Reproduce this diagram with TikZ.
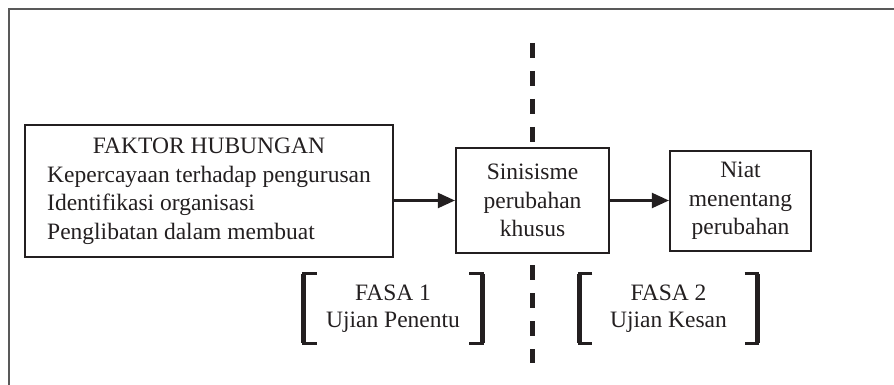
\documentclass[tikz,border=0pt]{standalone}
\usepackage{fontspec}
\setmainfont{Liberation Serif}
\usetikzlibrary{arrows.meta}
\definecolor{ink}{RGB}{35,31,32}

\begin{document}
\begin{tikzpicture}[x=1pt,y=-1pt,
        kotak/.style={draw=ink,line width=2.2pt,fill=white,align=center,inner sep=0pt,text=ink,
            font=\fontsize{23.5}{28.5}\selectfont},
        panah/.style={draw=ink,line width=2.2pt,-{Triangle[length=17pt,width=15pt]}},
        garis/.style={draw=ink,line width=5pt,dash pattern=on 15pt off 13pt},
        fasa/.style={minimum width=178pt,minimum height=69pt,align=center,inner sep=0pt,text=ink,
            font=\fontsize{23.5}{27}\selectfont},
        kurung/.style={draw=ink,line width=3pt}]
                \useasboundingbox (0,0) rectangle (894,385);
                \draw[black!65,line width=1.5pt] (9,385) -- (9,9) -- (894,9);
                % kotak
                \node[kotak,minimum width=368pt,minimum height=132pt] (faktor) at (209,191)
                    {\begin{tabular}{@{}l@{}}\multicolumn{1}{@{}c@{}}{FAKTOR HUBUNGAN}\\
                     Kepercayaan terhadap pengurusan\\ Identifikasi organisasi\\
                     Penglibatan dalam membuat\end{tabular}};
                \node[kotak,minimum width=153pt,minimum height=105pt] (sinis) at (532.5,200.5)
                    {Sinisisme\\perubahan\\khusus};
                \node[kotak,minimum width=141pt,minimum height=100pt] (niat) at (740.5,201)
                    {Niat\\menentang\\perubahan};
                \draw[panah] (faktor.east |- sinis.west) -- (sinis.west);
                \draw[panah] (sinis.east) -- (niat.west |- sinis.east);
                % garis putus
                \coordinate (g1) at (532,43);
                \coordinate (g2) at (532,143);
                \coordinate (g3) at (532,265);
                \coordinate (g4) at (532,363);
                \draw[garis] (g1) -- (g2);
                \draw[garis] (g3) -- (g4);
                % fasa
                \node[fasa] (fasa1) at (393,308.5) {FASA 1\\Ujian Penentu};
                \node[fasa] (fasa2) at (668.5,308.5) {FASA 2\\Ujian Kesan};
                \foreach \f in {fasa1,fasa2}{
                    \draw[kurung] ([xshift=13pt]\f.north west) -- (\f.north west) -- (\f.south west) -- ([xshift=13pt]\f.south west);
                    \draw[kurung] ([xshift=-13pt]\f.north east) -- (\f.north east) -- (\f.south east) -- ([xshift=-13pt]\f.south east);
                    \draw[kurung,line width=5pt] (\f.north west) -- (\f.south west);
                    \draw[kurung,line width=5pt] (\f.north east) -- (\f.south east);
                }
            \end{tikzpicture}
\end{document}
